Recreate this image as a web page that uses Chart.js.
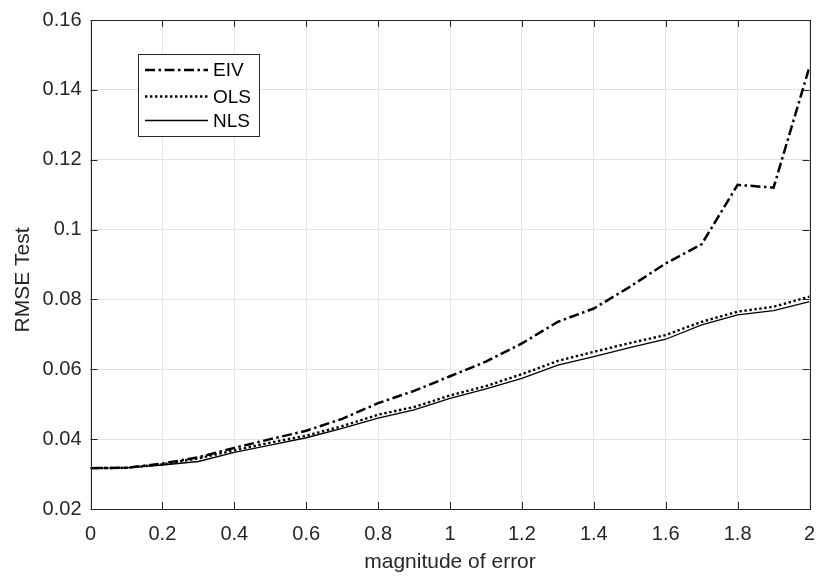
<!DOCTYPE html>
<html>
<head>
<meta charset="utf-8">
<script src="https://cdn.jsdelivr.net/npm/chart.js@4.4.1/dist/chart.umd.min.js"></script>
<style>
  html, body { margin: 0; padding: 0; background: #fff; }
  #wrap { width: 817px; height: 577px; }
</style>
</head>
<body>
<div id="wrap"><canvas id="plot" width="817" height="577"></canvas></div>
<script>
// values
const errMag = [0, 0.1, 0.2, 0.3, 0.4, 0.5, 0.6, 0.7, 0.8, 0.9, 1.0,
                1.1, 1.2, 1.3, 1.4, 1.5, 1.6, 1.7, 1.8, 1.9, 2.0];
const eiv = [0.0317, 0.0318, 0.0330, 0.0348, 0.0375, 0.0400, 0.0424, 0.0458, 0.0503, 0.0538, 0.0580,
             0.0622, 0.0674, 0.0736, 0.0774, 0.0836, 0.0903, 0.0958, 0.1128, 0.1120, 0.1466];
const ols = [0.0317, 0.0318, 0.0328, 0.0345, 0.0368, 0.0390, 0.0410, 0.0437, 0.0470, 0.0492, 0.0525,
             0.0552, 0.0586, 0.0624, 0.0650, 0.0675, 0.0698, 0.0736, 0.0765, 0.0779, 0.0808];
const nls = [0.0317, 0.0318, 0.0326, 0.0336, 0.0362, 0.0383, 0.0404, 0.0431, 0.0460, 0.0484, 0.0517,
             0.0544, 0.0574, 0.0612, 0.0636, 0.0662, 0.0686, 0.0727, 0.0756, 0.0768, 0.0794];
const xTicks = [0, 0.2, 0.4, 0.6, 0.8, 1, 1.2, 1.4, 1.6, 1.8, 2];
const yTicks = [0.02, 0.04, 0.06, 0.08, 0.1, 0.12, 0.14, 0.16];

const axisCol = "#262626";
const gridCol = "#e3e3e3";
const fontFam = "'Liberation Sans', Arial, Helvetica, sans-serif";

function pts(ys) { return errMag.map((x, i) => ({ x: x, y: ys[i] })); }
function fmt(v) { return String(+v.toFixed(2)); }

// box with inward ticks on all four sides (MATLAB style)
const boxPlugin = {
  id: "boxTicks",
  afterDatasetsDraw(chart) {
    const ctx = chart.ctx, a = chart.chartArea;
    const xs = chart.scales.x, ys = chart.scales.y;
    const tl = 7;
    ctx.save();
    ctx.strokeStyle = axisCol;
    ctx.lineWidth = 1;
    ctx.beginPath();
    xTicks.forEach(v => {
      const px = Math.round(xs.getPixelForValue(v)) + 0.5;
      ctx.moveTo(px, a.bottom); ctx.lineTo(px, a.bottom - tl);
      ctx.moveTo(px, a.top); ctx.lineTo(px, a.top + tl);
    });
    yTicks.forEach(v => {
      const py = Math.round(ys.getPixelForValue(v)) + 0.5;
      ctx.moveTo(a.left, py); ctx.lineTo(a.left + tl, py);
      ctx.moveTo(a.right, py); ctx.lineTo(a.right - tl, py);
    });
    ctx.stroke();
    ctx.strokeRect(Math.round(a.left) + 0.5, Math.round(a.top) + 0.5,
                   Math.round(a.right - a.left), Math.round(a.bottom - a.top));

    // y axis title, sits a little below the axes centre in the original
    ctx.save();
    ctx.translate(23, 280);
    ctx.rotate(-Math.PI / 2);
    ctx.fillStyle = axisCol;
    ctx.font = "21px " + fontFam;
    ctx.textAlign = "center";
    ctx.textBaseline = "middle";
    ctx.fillText("RMSE Test", 0, 0);
    ctx.restore();
    ctx.restore();
  }
};

// legend box in the upper left of the axes
const legendPlugin = {
  id: "boxLegend",
  afterDraw(chart) {
    const ctx = chart.ctx;
    const bx = 138.5, by = 54.5, bw = 121, bh = 82;
    ctx.save();
    ctx.fillStyle = "#fff";
    ctx.fillRect(bx, by, bw, bh);
    ctx.strokeStyle = axisCol;
    ctx.lineWidth = 1;
    ctx.strokeRect(bx, by, bw, bh);
    const rows = [70, 96.5, 120.5];
    chart.data.datasets.forEach((ds, i) => {
      const y = rows[i];
      ctx.beginPath();
      ctx.strokeStyle = ds.borderColor;
      ctx.lineWidth = ds.borderWidth;
      ctx.setLineDash(ds.borderDash || []);
      ctx.moveTo(145, y); ctx.lineTo(208, y);
      ctx.stroke();
      ctx.setLineDash([]);
      ctx.fillStyle = "#000";
      ctx.font = "19px " + fontFam;
      ctx.textBaseline = "middle";
      ctx.textAlign = "left";
      ctx.fillText(ds.label, 213, y + 1);
    });
    ctx.restore();
  }
};

new Chart(document.getElementById("plot"), {
  type: "line",
  data: {
    datasets: [
      { label: "EIV", data: pts(eiv), borderColor: "#000", borderWidth: 2.5,
        borderDash: [10, 3.5, 2.5, 3.5], pointRadius: 0, fill: false, tension: 0 },
      { label: "OLS", data: pts(ols), borderColor: "#000", borderWidth: 2.4,
        borderDash: [2.4, 2.6], pointRadius: 0, fill: false, tension: 0 },
      { label: "NLS", data: pts(nls), borderColor: "#000", borderWidth: 1.3,
        pointRadius: 0, fill: false, tension: 0 }
    ]
  },
  options: {
    responsive: false,
    animation: false,
    layout: { padding: { left: 0, right: 7.5, top: 20, bottom: 2 } },
    plugins: { legend: { display: false }, tooltip: { enabled: false } },
    scales: {
      x: {
        type: "linear", min: 0, max: 2,
        afterBuildTicks: s => { s.ticks = xTicks.map(v => ({ value: v })); },
        afterFit: s => { s.height = 66; s.paddingLeft = 0; s.paddingRight = 0; },
        grid: { color: gridCol, drawTicks: false },
        border: { display: false },
        ticks: { color: axisCol, padding: 13, maxRotation: 0, autoSkip: false,
                 font: { family: fontFam, size: 20 }, callback: v => fmt(v) },
        title: { display: true, text: "magnitude of error", color: axisCol,
                 font: { family: fontFam, size: 21 }, padding: { top: 0, bottom: 0 } }
      },
      y: {
        type: "linear", min: 0.02, max: 0.16,
        afterBuildTicks: s => { s.ticks = yTicks.map(v => ({ value: v })); },
        afterFit: s => { s.width = 90.5; s.paddingTop = 0; s.paddingBottom = 0; },
        grid: { color: gridCol, drawTicks: false },
        border: { display: false },
        ticks: { color: axisCol, padding: 9, autoSkip: false,
                 font: { family: fontFam, size: 20 }, callback: v => fmt(v) },
        title: { display: false }
      }
    }
  },
  plugins: [boxPlugin, legendPlugin]
});
</script>
</body>
</html>
